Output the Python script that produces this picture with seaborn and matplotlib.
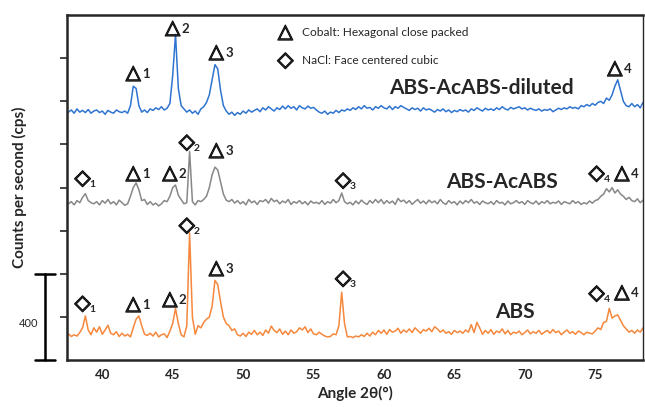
import numpy as np
import pandas as pd
import matplotlib
matplotlib.use("Agg")
import matplotlib.pyplot as plt
import matplotlib.patheffects as pe
import seaborn as sns

# Estilo base
sns.set_style("ticks")
plt.rcParams['font.family'] = ['Lato', 'DejaVu Sans']

# Ángulo 2θ (paso de 0.2°)
angle = np.round(np.arange(37.6, 78.61, 0.2), 1)

# Cuentas por segundo (ya desplazadas verticalmente)
abs_counts = [
    122, 110, 118, 112, 128, 150, 205, 140, 118, 150,
    130, 155, 120, 140, 162, 125, 118, 132, 110, 125,
    112, 120, 108, 150, 190, 205, 160, 120, 115, 125,
    112, 130, 108, 118, 122, 105, 135, 170, 240, 170,
    118, 108, 160, 590, 200, 120, 160, 150, 175, 190,
    200, 250, 370, 350, 270, 200, 170, 160, 138, 145,
    118, 112, 125, 110, 130, 120, 138, 118, 130, 115,
    140, 125, 158, 138, 128, 145, 120, 135, 118, 140,
    125, 132, 150, 140, 155, 128, 145, 122, 118, 130,
    120, 112, 108, 110, 122, 118, 160, 315, 170, 108,
    110, 105, 112, 108, 118, 110, 125, 112, 130, 118,
    138, 125, 140, 120, 142, 130, 135, 148, 125, 140,
    130, 145, 128, 150, 138, 125, 142, 135, 148, 132,
    155, 145, 130, 140, 125, 132, 120, 138, 128, 135,
    125, 140, 130, 165, 128, 175, 150, 120, 138, 125,
    142, 120, 135, 128, 145, 122, 138, 118, 130, 125,
    135, 118, 128, 140, 122, 132, 125, 138, 120, 130,
    138, 125, 142, 128, 135, 118, 130, 140, 125, 132,
    120, 135, 128, 118, 130, 125, 122, 135, 150, 142,
    175, 180, 240, 195, 205, 210, 185, 160, 145, 130,
    138, 125, 140, 130, 150, 118,
]

acabs_counts = [
    725, 735, 720, 740, 730, 755, 772, 740, 730, 725,
    735, 720, 740, 728, 745, 725, 735, 720, 742, 730,
    718, 725, 760, 800, 822, 790, 740, 745, 722, 735,
    720, 728, 715, 725, 740, 735, 760, 800, 812, 765,
    745, 725, 730, 968, 735, 720, 740, 735, 745, 760,
    800, 860, 895, 882, 825, 770, 742, 735, 745, 728,
    740, 725, 735, 720, 745, 730, 738, 722, 740, 735,
    745, 728, 750, 735, 742, 725, 738, 730, 745, 722,
    735, 728, 740, 725, 735, 720, 738, 728, 732, 725,
    740, 722, 735, 728, 745, 730, 740, 775, 735, 725,
    732, 720, 738, 725, 742, 730, 722, 740, 728, 745,
    730, 745, 725, 740, 728, 738, 722, 750, 735, 742,
    728, 740, 722, 735, 745, 728, 738, 725, 742, 730,
    738, 725, 745, 730, 722, 740, 728, 735, 720, 738,
    725, 740, 730, 745, 728, 735, 722, 738, 730, 725,
    735, 722, 740, 728, 732, 720, 738, 725, 730, 740,
    728, 735, 722, 740, 730, 725, 738, 722, 735, 728,
    740, 725, 732, 728, 738, 722, 735, 730, 725, 740,
    728, 735, 722, 730, 725, 738, 728, 740, 745, 760,
    770, 795, 780, 800, 775, 790, 770, 760, 745, 755,
    740, 735, 748, 730, 742, 735,
]

diluted_counts = [
    1150, 1160, 1145, 1165, 1150, 1158, 1148, 1162, 1145, 1155,
    1160, 1148, 1155, 1140, 1158, 1150, 1145, 1160, 1152, 1148,
    1155, 1145, 1180, 1270, 1260, 1180, 1150, 1160, 1148, 1165,
    1158, 1170, 1162, 1175, 1160, 1168, 1190, 1320, 1510, 1260,
    1180, 1165, 1150, 1160, 1145, 1155, 1140, 1165, 1175, 1195,
    1230, 1300, 1370, 1350, 1250, 1180, 1155, 1140, 1150, 1135,
    1148, 1140, 1155, 1145, 1160, 1150, 1158, 1165, 1152, 1170,
    1160, 1175, 1165, 1155, 1170, 1162, 1178, 1165, 1180, 1168,
    1175, 1160, 1180, 1170, 1165, 1178, 1168, 1172, 1160, 1150,
    1145, 1155, 1140, 1150, 1145, 1158, 1148, 1160, 1155, 1165,
    1158, 1170, 1162, 1175, 1165, 1180, 1168, 1172, 1160, 1175,
    1168, 1180, 1170, 1165, 1178, 1162, 1175, 1168, 1180, 1172,
    1165, 1158, 1170, 1162, 1168, 1155, 1170, 1160, 1165, 1158,
    1150, 1162, 1155, 1165, 1152, 1160, 1148, 1158, 1152, 1162,
    1155, 1160, 1150, 1165, 1158, 1170, 1162, 1155, 1168, 1160,
    1165, 1158, 1170, 1162, 1175, 1165, 1160, 1172, 1165, 1170,
    1175, 1165, 1170, 1160, 1168, 1162, 1158, 1165, 1155, 1162,
    1158, 1165, 1152, 1160, 1168, 1162, 1170, 1165, 1175, 1168,
    1172, 1165, 1180, 1175, 1185, 1178, 1190, 1182, 1195, 1200,
    1190, 1215, 1205, 1230, 1270, 1300, 1250, 1200, 1180, 1175,
    1190, 1175, 1185, 1170, 1195, 1180,
]

samples = ['ABS', 'ABS-AcABS', 'ABS-AcABS-diluted']
colors = {'ABS': '#F5883C', 'ABS-AcABS': '#878787', 'ABS-AcABS-diluted': '#2F74D0'}

# Etiquetas de picos: (fase, índice, ángulo, cps) — T = cobalto, D = NaCl
peak_labels = [
    ('T', '1', 42.5, 1331), ('T', '2', 45.3, 1540), ('T', '3', 48.4, 1428), ('T', '4', 76.7, 1354),
    ('D', '1', 38.9, 844), ('T', '1', 42.5, 867), ('T', '2', 45.1, 867), ('D', '2', 46.3, 1011),
    ('T', '3', 48.4, 974), ('D', '3', 57.4, 835), ('D', '4', 75.4, 867), ('T', '4', 77.2, 867),
    ('D', '1', 38.9, 264), ('T', '1', 42.5, 260), ('T', '2', 45.1, 283), ('D', '2', 46.3, 626),
    ('T', '3', 48.4, 427), ('D', '3', 57.4, 380), ('D', '4', 75.4, 311), ('T', '4', 77.2, 315),
]

# Nombres de las muestras junto a cada curva
sample_labels = [('ABS-AcABS-diluted', 66.9, 1262), ('ABS-AcABS', 68.4, 826), ('ABS', 69.3, 223)]

df = pd.DataFrame({
    'Angle': np.tile(angle, 3),
    'Counts': abs_counts + acabs_counts + diluted_counts,
    'Sample': np.repeat(samples, len(angle)),
})

fig = plt.figure(figsize=(6.45, 4.07), dpi=100)
ax = fig.add_axes([0.104, 0.115, 0.893, 0.848])

sns.lineplot(data=df, x='Angle', y='Counts', hue='Sample', palette=colors,
             estimator=None, linewidth=1.1, legend=False, ax=ax)

ax.set_xlim(37.5, 78.4)
ax.set_ylim(0, 1600)
ax.set_xticks([40, 45, 50, 55, 60, 65, 70, 75])
ax.set_yticks(range(200, 1401, 200))
ax.set_yticklabels([])
ax.tick_params(axis='x', length=0, labelsize=9.5, pad=6)
ax.tick_params(axis='y', direction='out', length=5, width=1.2)
for lab in ax.get_xticklabels():
    lab.set_fontweight('bold')
for side in ['left', 'bottom', 'top']:
    ax.spines[side].set_linewidth(1.8)
ax.spines['right'].set_linewidth(1.0)

ax.set_xlabel('Angle 2θ(°)', fontsize=11, fontweight='bold', labelpad=4)
ax.set_ylabel('Counts per second (cps)', fontsize=11, fontweight='bold', labelpad=20)

thick = [pe.withStroke(linewidth=0.9, foreground='black')]


def draw_symbol(kind, x, y):
    if kind == 'T':
        ax.text(x, y, '△', ha='center', va='center', fontsize=14,
                family=['DejaVu Sans'], path_effects=thick)
    else:
        ax.text(x, y, '◇', ha='center', va='center', fontsize=15,
                family=['DejaVu Sans'], path_effects=thick)


for kind, num, x, y in peak_labels:
    sx = x - 0.3
    draw_symbol(kind, sx, y)
    if kind == 'T':
        ax.annotate(num, xy=(sx, y), xytext=(6.5, -0.5), textcoords='offset points',
                    ha='left', va='center', fontsize=9.5, fontweight='bold')
    else:
        ax.annotate(num, xy=(sx, y), xytext=(5, -4.5), textcoords='offset points',
                    ha='left', va='center', fontsize=7.5, fontweight='bold')

for txt, x, y in sample_labels:
    ax.text(x, y, txt, ha='center', va='center', fontsize=15, fontweight='bold')

# Leyenda de fases
draw_symbol('T', 53.0, 1521)
ax.text(54.2, 1521, 'Cobalt: Hexagonal close packed', ha='left', va='center', fontsize=8.6)
draw_symbol('D', 53.0, 1391)
ax.text(54.2, 1391, 'NaCl: Face centered cubic', ha='left', va='center', fontsize=8.6)

# Barra de escala (400 cps)
ax.plot([35.96, 35.96], [0, 400], color='black', lw=1.8, clip_on=False)
ax.plot([35.25, 36.67], [0, 0], color='black', lw=1.8, clip_on=False)
ax.plot([35.25, 36.67], [400, 400], color='black', lw=1.8, clip_on=False)
ax.text(34.75, 172, '400', ha='center', va='center', fontsize=8)

fig.savefig('out.png', dpi=100)
